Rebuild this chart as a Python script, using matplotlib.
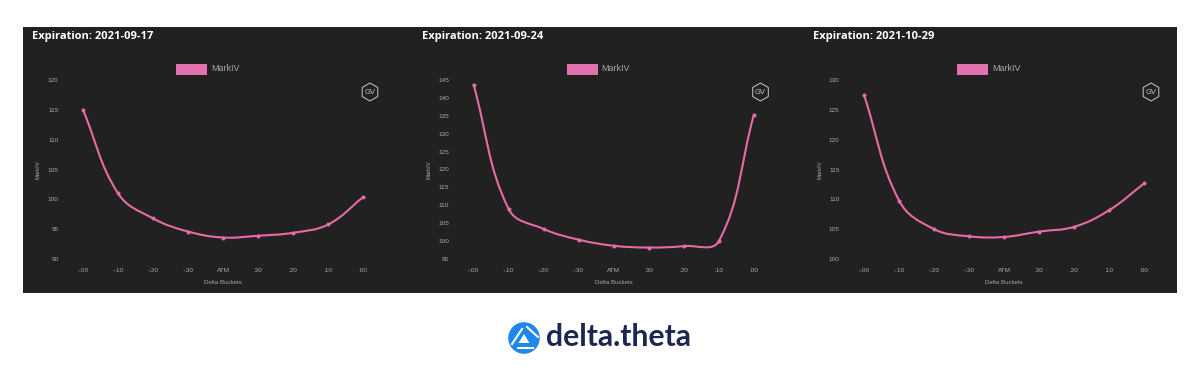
import matplotlib
matplotlib.use('Agg')
import matplotlib.pyplot as plt
import numpy as np
from matplotlib.patches import Circle, PathPatch, Polygon, Rectangle, RegularPolygon
from matplotlib.path import Path

W, H = 1200, 388

buckets = ['-.00', '-.10', '-.20', '-.30', 'ATM', '.30', '.20', '.10', '.00']

expiry_1 = '2021-09-17'
iv_1 = [115.0, 101.0, 96.8, 94.6, 93.6, 93.9, 94.4, 95.8, 100.4]
ticks_1 = [90, 95, 100, 105, 110, 115, 120]

expiry_2 = '2021-09-24'
iv_2 = [143.7, 109.0, 103.4, 100.4, 98.7, 98.2, 98.6, 100.0, 135.3]
ticks_2 = [95, 100, 105, 110, 115, 120, 125, 130, 135, 140, 145]

expiry_3 = '2021-10-29'
iv_3 = [127.5, 109.8, 105.0, 103.8, 103.7, 104.6, 105.4, 108.2, 112.7]
ticks_3 = [100, 105, 110, 115, 120, 125, 130]

PANEL = '#212121'
PINK = '#e56aa5'
GREY = '#a9a9a9'
TENSION = 0.4


def spline_path(ax, values):
    """ Bezier through the points, the way Chart.js smooths a line. """
    pts = ax.transData.transform(np.column_stack([np.arange(len(values)), values]))
    verts = [pts[0]]
    codes = [Path.MOVETO]
    for i in range(len(pts) - 1):
        prev = pts[max(i - 1, 0)]
        nxt = pts[min(i + 2, len(pts) - 1)]
        a, b = pts[i], pts[i + 1]
        d_ab = np.hypot(*(b - a))
        d_pa = np.hypot(*(a - prev))
        d_bn = np.hypot(*(nxt - b))
        c1 = a + TENSION * d_ab / (d_pa + d_ab) * (b - prev)
        c2 = b - TENSION * d_ab / (d_ab + d_bn) * (nxt - a)
        verts += [c1, c2, b]
        codes += [Path.CURVE4] * 3
    return Path(verts, codes)


def draw_chart(page, x0, expiry, values, ticks):
    # x0 is the pixel position of the first bucket
    step = 35.05
    left, right = x0 - 17.5, x0 + 8 * step + 17.5
    top, bottom = 80.0, 259.0
    ax = fig.add_axes([left / W, 1 - bottom / H, (right - left) / W, (bottom - top) / H])
    ax.set_facecolor('none')
    ax.set_xlim(-0.5, 8.5)
    ax.set_ylim(ticks[0], ticks[-1])
    for s in ax.spines.values():
        s.set_visible(False)
    ax.set_xticks(range(len(buckets)), buckets)
    ax.set_yticks(ticks)
    ax.tick_params(length=0, labelsize=4.6, labelcolor=GREY)
    ax.tick_params(axis='y', pad=5)
    ax.tick_params(axis='x', pad=6.3)
    for lab in ax.get_xticklabels() + ax.get_yticklabels():
        lab.set_family('Liberation Sans')

    ax.add_patch(PathPatch(spline_path(ax, values), transform=None, fill=False,
                           edgecolor=PINK, lw=1.5, capstyle='round'))
    ax.plot(range(len(values)), values, 'o', color=PINK, ms=2.9, mew=0)

    page.text(x0 + 140, 283, 'Delta Buckets', ha='center', va='center', fontsize=4.4,
              color=GREY, family='Liberation Sans')
    page.text(x0 - 44.5, 170, 'MarkIV', ha='center', va='center', rotation=90, fontsize=4.2,
              color=GREY, family='Liberation Sans')

    page.text(x0 - 51, 36.5, f'Expiration: {expiry}', ha='left', va='center', fontsize=8.0,
              color='white', family='Open Sans', weight='bold')

    page.add_patch(Rectangle((x0 + 93, 63.5), 31, 11, facecolor='#e272ad', edgecolor='none'))
    page.text(x0 + 128, 68.5, 'MarkIV', ha='left', va='center', fontsize=6.4,
              color=GREY, family='Liberation Sans')

    page.add_patch(RegularPolygon((x0 + 287, 92), 6, radius=9, facecolor='none',
                                  edgecolor='#c8c8c8', lw=0.7))
    page.text(x0 + 287, 92.2, 'GV', ha='center', va='center', fontsize=5.4,
              color='#c8c8c8', family='Liberation Sans')


def draw_logo(page):
    cx, cy = 524, 338
    page.add_patch(Circle((cx, cy), 15.8, facecolor='#1f86ea', edgecolor='none'))
    tri = Polygon([(cx, cy - 4), (cx + 5.5, cy + 5), (cx - 5.5, cy + 5)], closed=True,
                  facecolor='white', edgecolor='none')
    page.add_patch(tri)
    page.plot([cx - 2, cx - 12], [cy - 9, cy + 6], color='white', lw=1.5)
    page.plot([cx + 14, cx + 3], [cy - 1, cy - 11], color='white', lw=1.5)
    page.plot([cx - 6, cx + 9], [cy + 9.5, cy + 9.5], color='white', lw=1.5)
    page.text(546, 337.5, 'delta.theta', ha='left', va='center', fontsize=21.7,
              color='#1b2750', family='Lato', weight='bold')


fig = plt.figure(figsize=(W / 100, H / 100), dpi=100, facecolor='white')
page = fig.add_axes([0, 0, 1, 1])
page.set_xlim(0, W)
page.set_ylim(H, 0)
page.axis('off')
page.add_patch(Rectangle((23, 27), 1154, 266, facecolor=PANEL, edgecolor='none'))

draw_chart(page, 83.0, expiry_1, iv_1, ticks_1)
draw_chart(page, 473.5, expiry_2, iv_2, ticks_2)
draw_chart(page, 864.0, expiry_3, iv_3, ticks_3)
draw_logo(page)

fig.savefig('out.png', dpi=100)
